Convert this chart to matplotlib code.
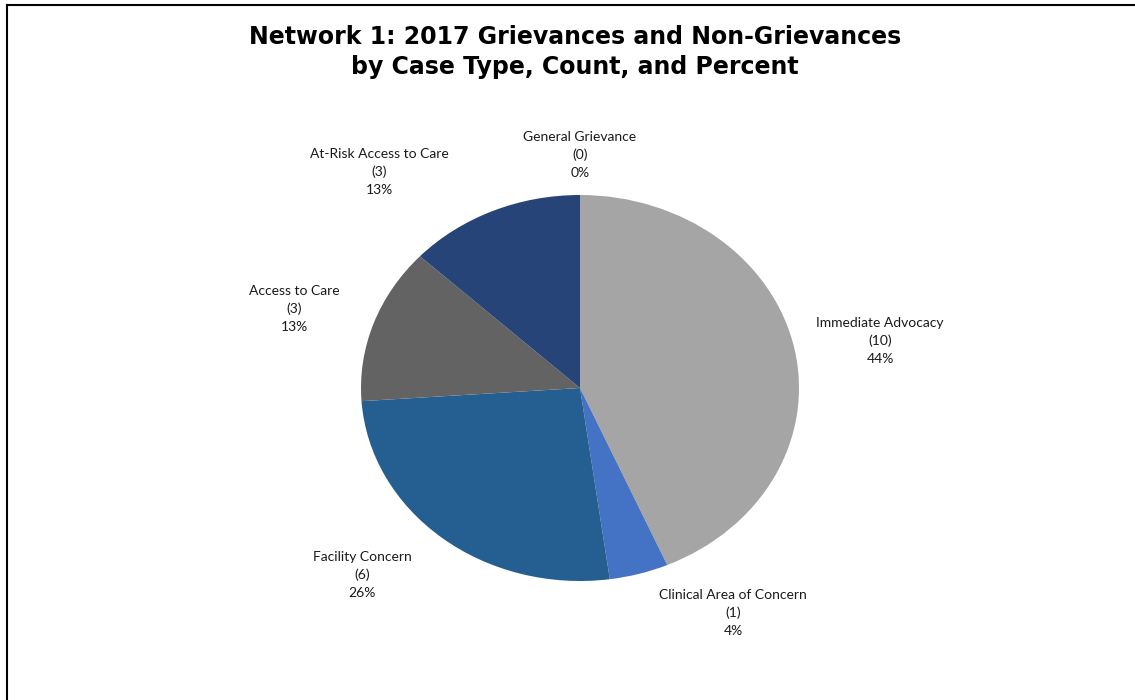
import matplotlib
matplotlib.use("Agg")
import matplotlib.pyplot as plt
from matplotlib.lines import Line2D

categories = ["Immediate Advocacy", "Clinical Area of Concern", "Facility Concern",
              "Access to Care", "At-Risk Access to Care", "General Grievance"]
counts = [10, 1, 6, 3, 3, 0]
percents = ["44%", "4%", "26%", "13%", "13%", "0%"]
colors = ["#a5a5a5", "#4472c4", "#255e91", "#636363", "#264478", "#9e480e"]

# label text centres in pixel coordinates (layout)
label_px = [(880, 341), (733, 613), (362, 575), (294, 309), (379, 172), (580, 155)]

W, H = 1135, 700
fig = plt.figure(figsize=(W / 100, H / 100), dpi=100)
fig.patch.set_facecolor("white")
plt.rcParams['font.family'] = ['Lato', 'DejaVu Sans']

# pie is horizontally stretched in the reference (ellipse)
cx, cy, rx, ry = 580, 388, 219, 193
ax = fig.add_axes([(cx - rx) / W, (H - cy - ry) / H, 2 * rx / W, 2 * ry / H])
ax.pie(counts, colors=colors, startangle=90, counterclock=False, radius=1,
       wedgeprops=dict(linewidth=0))
ax.set_aspect("auto")
ax.set_xlim(-1, 1)
ax.set_ylim(-1, 1)
ax.axis("off")

for cat, c, p, (px, py) in zip(categories, counts, percents, label_px):
    fig.text(px / W, 1 - py / H, f"{cat}\n({c})\n{p}", ha="center", va="center",
             fontsize=10, color="#1a1a1a", linespacing=1.6)

fig.text(575 / W, 1 - 52 / H,
         "Network 1: 2017 Grievances and Non-Grievances\nby Case Type, Count, and Percent",
         ha="center", va="center", fontsize=17, fontweight="bold", color="black",
         linespacing=1.32, family=["DejaVu Sans"])

# frame lines (top and left)
fig.add_artist(Line2D([7 / W, 1], [1 - 5 / H, 1 - 5 / H], transform=fig.transFigure,
                      color="black", linewidth=1.5))
fig.add_artist(Line2D([7 / W, 7 / W], [0, 1 - 5 / H], transform=fig.transFigure,
                      color="black", linewidth=1.5))

fig.savefig("out.png", dpi=100)
